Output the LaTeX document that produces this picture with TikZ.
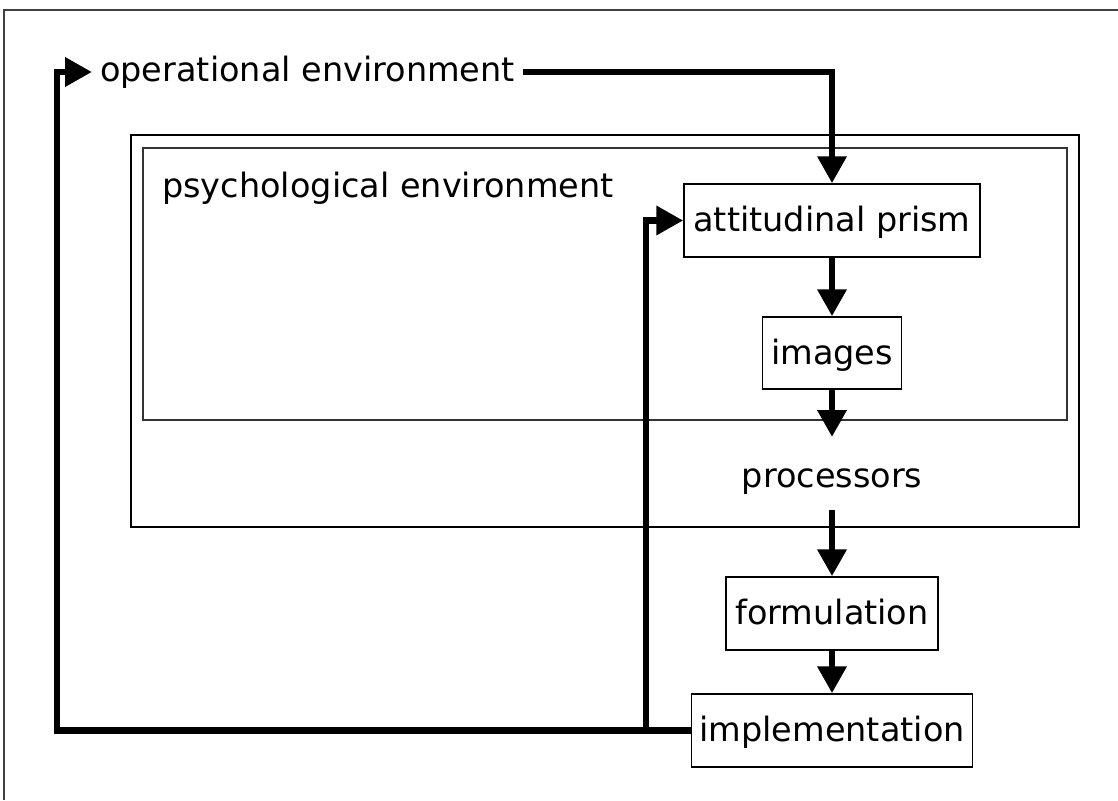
\documentclass[tikz,border=0pt]{standalone}
\usepackage{fontspec}
\setmainfont{DejaVu Sans}
\usetikzlibrary{arrows.meta}
\begin{document}
\begin{tikzpicture}[x=1pt,y=-1pt,
  every node/.style={font=\fontsize{33.5}{40}\selectfont},
  box/.style={draw=black,line width=1.5pt,inner sep=0pt,minimum height=73pt,text height=27pt,text depth=5pt},
  flow/.style={line width=6.7pt,line join=miter,-{Triangle[width=28pt,length=27pt]}},
  frame/.style={draw=black!75,line width=2pt},
  region/.style={draw=black,line width=1.5pt}]
\useasboundingbox (0,0) rectangle (1118,800);
\fill[white] (0,0) rectangle (1118,800);
\draw[frame] (4,800) -- (4,10) -- (1118,10);
\draw[region] (131,135) rectangle (1079,527);
\draw[region,draw=black!80] (143,148) rectangle (1067,420);
\node[anchor=base west, inner sep=0pt] (psy) at (162,197) {psychological environment};
\node[anchor=west, inner xsep=8pt, inner ysep=0pt] (op) at (92,72) {operational environment};
\node[box,minimum width=296pt] (att) at (832,220.5) {attitudinal prism};
\node[box,minimum width=139pt,minimum height=72pt] (img) at (832,353) {images};
\node[anchor=base, inner sep=0pt] (proc) at (832,487) {processors};
\node[box,minimum width=212pt] (form) at (832,613.5) {formulation};
\node[box,minimum width=281pt] (impl) at (832,730.5) {implementation};
\coordinate (pin) at (832,437);
\coordinate (pout) at (832,510);
\coordinate (lc) at (57,0);
\coordinate (br) at (646,0);
\draw[flow] (op.east) -| (att.north);
\draw[flow] (att.south) -- (img.north);
\draw[flow] (img.south) -- (pin);
\draw[flow] (pout) -- (form.north);
\draw[flow] (form.south) -- (impl.north);
\draw[flow] (impl.west) -| (lc |- op.west) -- (op.west);
\draw[flow] (br |- impl.west) |- (att.west);
\end{tikzpicture}
\end{document}
